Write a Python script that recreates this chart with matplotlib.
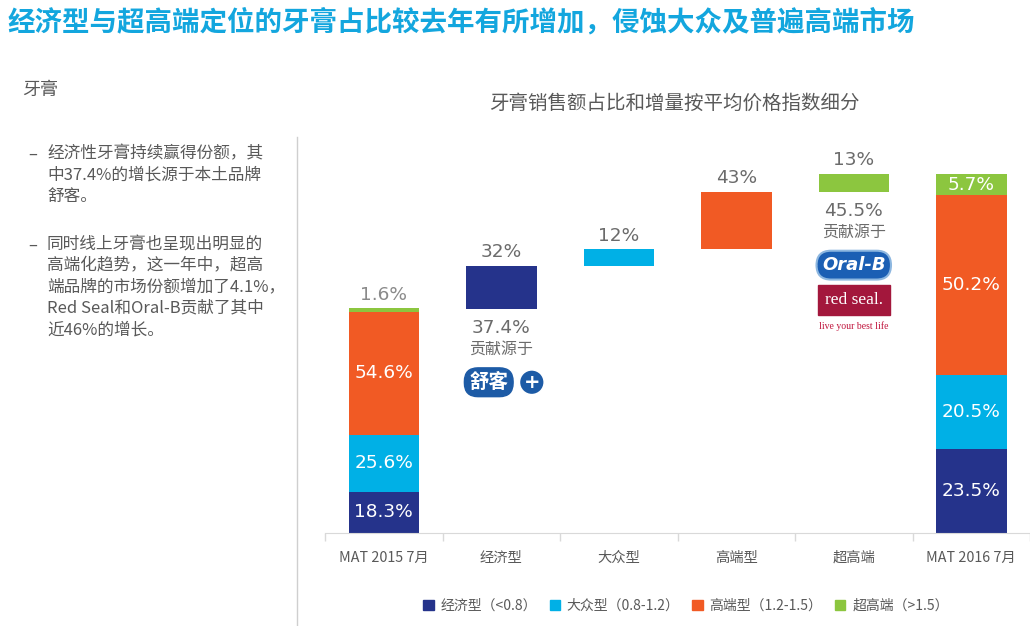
import numpy as np
import matplotlib
matplotlib.use("Agg")
import matplotlib.pyplot as plt
from matplotlib.patches import Patch
from matplotlib.lines import Line2D

plt.rcParams['font.family'] = ['Noto Sans CJK SC', 'DejaVu Sans']

# ---------------- data ----------------
categories = ['MAT 2015 7月', '经济型', '大众型', '高端型', '超高端', 'MAT 2016 7月']
segments = ['经济型（<0.8）', '大众型（0.8-1.2）', '高端型（1.2-1.5）', '超高端（>1.5）']
colors = ['#25338B', '#00B0E6', '#F15A24', '#8CC63F']
share_2015 = [18.3, 25.6, 54.6, 1.6]      # % of MAT 2015 sales
share_2016 = [23.5, 20.5, 50.2, 5.7]      # % of MAT 2016 sales
growth_share = [32, 12, 43, 13]           # % of total growth contributed
size_index_2015 = 100                     # market size index
size_index_2016 = 160
contrib_pct = {1: '37.4%', 4: '45.5%'}

title = '经济型与超高端定位的牙膏占比较去年有所增加，侵蚀大众及普遍高端市场'
subtitle = '牙膏销售额占比和增量按平均价格指数细分'
bullet1 = ['经济性牙膏持续赢得份额，其', '中37.4%的增长源于本土品牌', '舒客。']
bullet2 = ['同时线上牙膏也呈现出明显的', '高端化趋势，这一年中，超高',
           '端品牌的市场份额增加了4.1%，', 'Red Seal和Oral-B贡献了其中', '近46%的增长。']

W, H = 1030, 626
fig = plt.figure(figsize=(W / 100, H / 100), dpi=100)
ax = fig.add_axes([325 / W, 93 / H, 705 / W, 381.4 / H])

num_font = ['DejaVu Sans']
grey = '#6b6b6b'
bw = 0.6
nfs = 13.3

# left stacked bar (2015)
h15 = np.array(share_2015) * size_index_2015 / 100
b = 0
for i, (h, c) in enumerate(zip(h15, colors)):
    ax.bar(0, h, bottom=b, width=bw, color=c, zorder=2)
    if i < 3:
        ax.text(0, b + h / 2, f'{share_2015[i]}%', ha='center', va='center',
                color='white', fontsize=nfs, family=num_font)
    b += h
ax.annotate(f'{share_2015[3]}%', (0, b), xytext=(0, 10), textcoords='offset points',
            ha='center', va='center', color='#8a8a8a', fontsize=nfs, family=num_font)

# waterfall increments
growth = size_index_2016 - size_index_2015
inc = np.array(growth_share) / 100 * growth
bottoms = size_index_2015 + np.concatenate([[0], np.cumsum(inc)[:-1]])
for i in range(4):
    x = i + 1
    ax.bar(x, inc[i], bottom=bottoms[i], width=bw, color=colors[i], zorder=2)
    ax.annotate(f'{growth_share[i]}%', (x, bottoms[i] + inc[i]), xytext=(0, 10),
                textcoords='offset points', ha='center', va='center',
                color=grey, fontsize=nfs, family=num_font)
    if x in contrib_pct:
        ax.annotate(contrib_pct[x], (x, bottoms[i]), xytext=(0, -14),
                    textcoords='offset points', ha='center', va='center',
                    color=grey, fontsize=nfs, family=num_font)
        ax.annotate('贡献源于', (x, bottoms[i]), xytext=(0, -29),
                    textcoords='offset points', ha='center', va='center',
                    color=grey, fontsize=11.5)

# logos (approximations)
x1, y1 = 1, bottoms[0]
ax.annotate('舒客', (x1, y1), xytext=(-9, -53), textcoords='offset points',
            ha='center', va='center', color='white', fontsize=14, fontweight='bold',
            bbox=dict(boxstyle='round,pad=0.25,rounding_size=0.7', fc='#1D5BA6', ec='#1D5BA6'),
            annotation_clip=False)
ax.annotate('+', (x1, y1), xytext=(22, -53), textcoords='offset points',
            ha='center', va='center', color='white', fontsize=14, fontweight='bold',
            family=num_font,
            bbox=dict(boxstyle='circle,pad=0.15', fc='#1D5BA6', ec='white', lw=1.2),
            annotation_clip=False)

x4, y4 = 4, bottoms[3]
ax.annotate('Oral-B', (x4, y4), xytext=(0, -53), textcoords='offset points',
            ha='center', va='center', color='white', fontsize=13, fontweight='bold',
            style='italic', family=num_font,
            bbox=dict(boxstyle='round,pad=0.3,rounding_size=0.8', fc='#1B5FB4', ec='#8DB7E0', lw=1.5),
            annotation_clip=False)
ax.annotate('red seal.', (x4, y4), xytext=(0, -78), textcoords='offset points',
            ha='center', va='center', color='white', fontsize=12.5,
            family=['Liberation Serif'],
            bbox=dict(boxstyle='square,pad=0.4', fc='#A3173C', ec='#A3173C'),
            annotation_clip=False)
ax.annotate('live your best life', (x4, y4), xytext=(0, -97), textcoords='offset points',
            ha='center', va='center', color='#C0143C', fontsize=7,
            family=['Liberation Serif'], annotation_clip=False)

# right stacked bar (2016)
h16 = np.array(share_2016) * size_index_2016 / 100
b = 0
for i, (h, c) in enumerate(zip(h16, colors)):
    ax.bar(5, h, bottom=b, width=bw, color=c, zorder=2)
    ax.text(5, b + h / 2, f'{share_2016[i]}%', ha='center', va='center',
            color='white', fontsize=nfs, family=num_font)
    b += h

# axes styling
ax.set_xlim(-0.5, 5.5)
ax.set_ylim(0, 170)
for s in ['top', 'left', 'right']:
    ax.spines[s].set_visible(False)
ax.spines['bottom'].set_color('#d9d9d9')
ax.set_yticks([])
ax.set_xticks(range(len(categories)), categories)
ax.tick_params(axis='x', which='major', length=0, pad=13, labelsize=10.3, labelcolor='#595959')
ax.set_xticks(np.arange(-0.5, len(categories), 1), minor=True)
ax.tick_params(axis='x', which='minor', length=6, color='#d9d9d9', width=1)

# legend
handles = [Patch(facecolor=c, edgecolor=c) for c in colors]
fig.legend(handles, segments, loc='center', bbox_to_anchor=(686 / W, 20 / H), ncol=4,
           frameon=False, fontsize=10, handlelength=0.75, handleheight=0.75,
           handletextpad=0.5, columnspacing=0.9, labelcolor='#595959')

# texts
fig.text(8 / W, 1 - 22 / H, title, fontsize=19.8, fontweight='bold', color='#13A6DE',
         va='center', ha='left')
fig.text(674 / W, 1 - 103 / H, subtitle, fontsize=14, color='#595959', ha='center', va='center')
fig.text(22 / W, 1 - 90 / H, '牙膏', fontsize=13, color='#595959', ha='left', va='center')

for lines, ys in [(bullet1, [154, 175, 196]), (bullet2, [245, 266, 287, 308, 330])]:
    fig.text(28 / W, 1 - ys[0] / H, '–', fontsize=12, color='#595959', ha='left', va='center')
    for ln, y in zip(lines, ys):
        fig.text(47 / W, 1 - y / H, ln, fontsize=12, color='#595959', ha='left', va='center')

fig.add_artist(Line2D([297 / W, 297 / W], [0, 1 - 137 / H], color='#cfcfcf', lw=1,
                      transform=fig.transFigure))

fig.savefig('out.png', dpi=100)
